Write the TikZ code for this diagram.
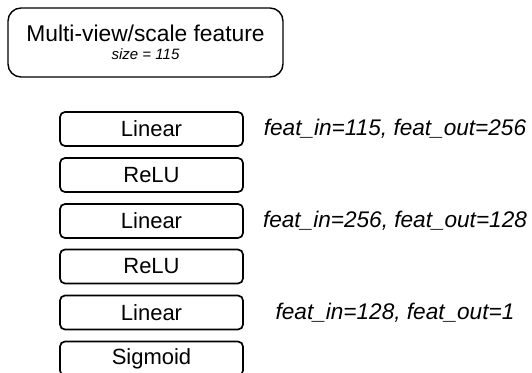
\documentclass[tikz,border=0pt]{standalone}
\usepackage{fontspec}
\setmainfont{Liberation Sans}

\begin{document}
\begin{tikzpicture}[x=1pt,y=-1pt]
  \tikzstyle{layer}=[draw,line width=1.7pt,rounded corners=5pt,minimum width=183pt,minimum height=34pt,inner sep=0pt,font=\fontsize{22}{24}\selectfont]
  \tikzstyle{dims}=[font=\fontsize{22.6}{24}\selectfont\itshape]
  \useasboundingbox (0,0) rectangle (532,372);

  \node[draw,line width=1.4pt,rounded corners=13pt,minimum width=275pt,minimum height=69pt,align=center,font=\fontsize{22.8}{24}\selectfont] (feat) at (145.5,42.5) {Multi-view/scale feature\\[-6pt]{\fontsize{15}{15}\selectfont\itshape size = 115}};

  \node[layer] (L_1) at (151.5,129)   {Linear};
  \node[layer] (R_1) at (151.5,175)   {ReLU};
  \node[layer] (L_2) at (151.5,221)   {Linear};
  \node[layer] (R_2) at (151.5,266.5) {ReLU};
  \node[layer] (L_3) at (151.5,312.5) {Linear};
  \node[layer] (S_1) at (151.5,358.5) {Sigmoid};

  \node[dims] (D_1) at (395,129)   {feat\_in=115, feat\_out=256};
  \node[dims] (D_2) at (395,221)   {feat\_in=256, feat\_out=128};
  \node[dims] (D_3) at (395,312.5) {feat\_in=128, feat\_out=1};

\end{tikzpicture}
\end{document}
